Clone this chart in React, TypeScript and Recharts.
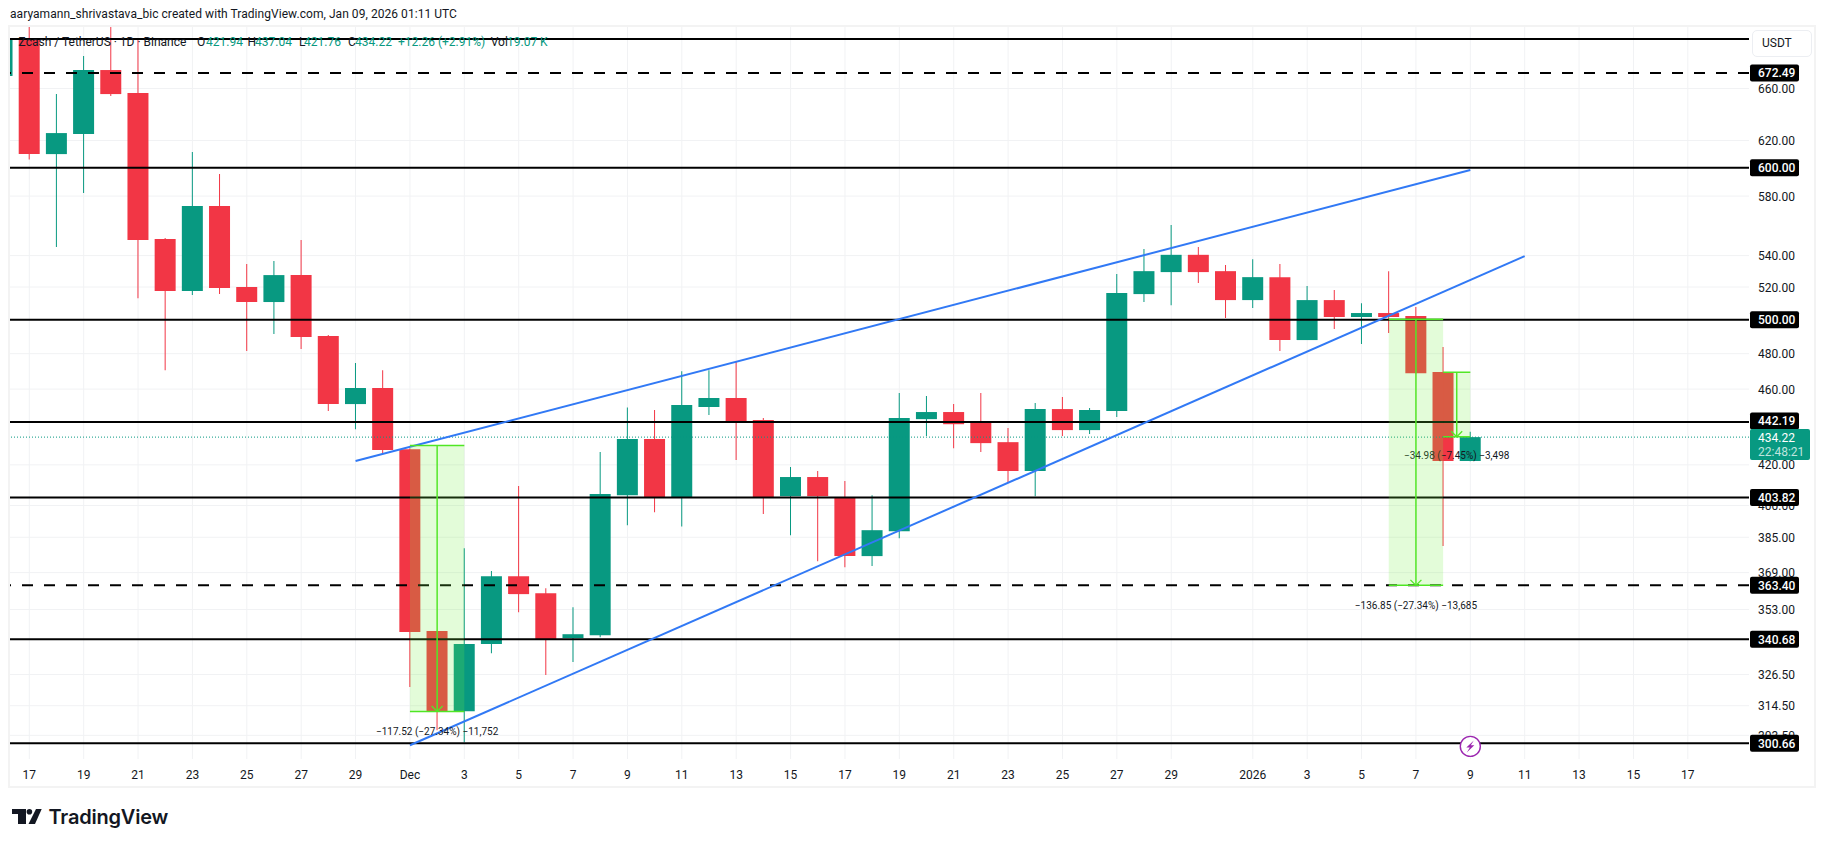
import React from "react";
import { ComposedChart, Bar, Cell, XAxis, YAxis, CartesianGrid, ReferenceLine, ReferenceArea, ReferenceDot } from "recharts";

// Daily candles, first entry is Nov 16 (day -1), Nov 17 is day 0.
const opens = [670, 700, 610, 624.9, 674.8, 656.4, 550.9, 517.5, 573.1, 520, 510.7, 527.5, 490.3, 451.8, 460.6, 428, 344, 312.4, 338.7, 367.4, 360, 341.1, 342.3, 405, 433.2, 404, 450.2, 455.1, 443.2, 404.5, 413.9, 404, 376.4, 387.8, 443.7, 447.5, 442.1, 431.6, 416.9, 449.1, 437.9, 448, 515.6, 529.4, 540.5, 530, 511.9, 526.2, 487.9, 511.9, 501.6, 504, 502.2, 469.5, 421.94];
const highs = [705, 730, 655.6, 686.3, 730, 700, 551.5, 611.5, 595.6, 534.5, 536.5, 550.2, 490.9, 474.6, 470.6, 428.5, 344, 380, 369.7, 409.5, 362.2, 354, 426.5, 450, 448.6, 470, 470.6, 475.2, 444.3, 418.9, 416.9, 411.9, 405, 457.8, 456.2, 451.8, 457.8, 439, 452.4, 455.6, 449.7, 528.2, 544.3, 560.2, 545.6, 533.9, 537.7, 534.5, 520.6, 518.1, 510, 530, 507.6, 483.9, 437.04];
const lows = [665, 606, 545.6, 582.2, 654, 513.1, 470.6, 515, 515.6, 481.5, 491.4, 482.7, 448, 438.4, 426, 321.6, 305.4, 301, 335, 351.9, 326.3, 331.4, 341.5, 390.6, 396.8, 390, 445.9, 422.4, 395.9, 386, 374.1, 371.4, 371.9, 384.6, 434.8, 428.5, 426.5, 411.4, 404.5, 434.8, 435.8, 444.8, 510.7, 508.8, 522.5, 501, 507, 481.5, 487.9, 494.4, 485.6, 492, 468.9, 381, 421.76];
const closes = [700, 610, 625.6, 674.8, 655.6, 550.2, 517.5, 573.1, 519.4, 510.7, 527.5, 489.7, 451.8, 460.6, 427.5, 343.6, 312.4, 338.7, 367.4, 359.6, 340.7, 342.7, 405.5, 433.2, 404, 451.3, 455.1, 442.7, 404, 413.9, 404.5, 376.4, 388.3, 444.3, 447.5, 441, 431.1, 416.9, 449.1, 437.9, 448.6, 516.2, 530, 540.5, 529.4, 511.9, 526.2, 487.9, 511.9, 501.6, 504, 501.6, 468.9, 421.94, 434.22];

const xTickDays = [0, 2, 4, 6, 8, 10, 12, 14, 16, 18, 20, 22, 24, 26, 28, 30, 32, 34, 36, 38, 40, 42, 45, 47, 49, 51, 53, 55, 57, 59, 61];
const xTickLabels = ["17", "19", "21", "23", "25", "27", "29", "Dec", "3", "5", "7", "9", "11", "13", "15", "17", "19", "21", "23", "25", "27", "29", "2026", "3", "5", "7", "9", "11", "13", "15", "17"];

const plainPrices = [660, 620, 580, 540, 520, 480, 460, 420, 400, 385, 369, 353, 326.5, 314.5, 303.5];
const solidLevels = [600, 500, 442.19, 403.82, 340.68, 300.66];
const dashedLevels = [672.49, 363.4];
const topLevel = 700.4;
const lastPrice = 434.22;
const lastCountdown = "22:48:21";

const upperTrendDays = [12, 53];
const upperTrendPrices = [421.9, 598.5];
const lowerTrendDays = [14, 55];
const lowerTrendPrices = [299.9, 539.7];

const measureFrom = [14, 50, 52];
const measureTo = [16, 52, 53];
const measureArrow = [15, 51, 52.5];
const measureTop = [429.86, 500.25, 469.4];
const measureBottom = [312.34, 363.4, 434.42];
const measureLabels = ["−117.52 (−27.34%) −11,752", "−136.85 (−27.34%) −13,685", "−34.98 (−7.45%) −3,498"];
const measureLabelPrice = [304.8, 354.9, 424.6];

const UP = "#089981";
const DOWN = "#F23645";
const INK = "#131722";
const GRID = "#f1f2f4";
const FONT = "Roboto, sans-serif";

const rows = opens.map((o, i) => ({
  day: i - 1,
  body: [Math.min(o, closes[i]), Math.max(o, closes[i])],
  wick: [lows[i], highs[i]],
  up: closes[i] >= o,
}));

const allPriceTicks = [...plainPrices, ...solidLevels, ...dashedLevels, lastPrice];
const isLevel = (v: number) => solidLevels.includes(v) || dashedLevels.includes(v);
const fmt = (v: number) => v.toFixed(2);

function PriceTick(props: any) {
  const { x, y, payload } = props;
  const v = payload.value;
  if (v === lastPrice) {
    return (
      <g>
        <rect x={x + 1} y={y - 8} width={60} height={31} rx={2} fill={UP} />
        <text x={x + 9} y={y + 4.5} fill="#ffffff" fontSize={12} fontFamily={FONT}>{fmt(v)}</text>
        <text x={x + 9} y={y + 18.5} fill="#bfe5de" fontSize={12} fontFamily={FONT}>{lastCountdown}</text>
      </g>
    );
  }
  if (isLevel(v)) {
    const c = y - (v === 442.19 ? 1 : 0);
    return (
      <g>
        <rect x={x + 1} y={c - 8.5} width={49} height={17} rx={2} fill="#000000" />
        <text x={x + 9} y={c + 4.5} fill="#ffffff" fontSize={12} fontWeight={500} fontFamily={FONT}>{fmt(v)}</text>
      </g>
    );
  }
  return <text x={x + 9} y={y + 4.5} fill={INK} fontSize={12} fontFamily={FONT}>{fmt(v)}</text>;
}

function DayTick(props: any) {
  const { x, y, payload } = props;
  const i = xTickDays.indexOf(payload.value);
  return (
    <text x={x} y={y + 18} textAnchor="middle" fill={INK} fontSize={12} fontFamily={FONT}>
      {xTickLabels[i]}
    </text>
  );
}

const Chevron = (props: any) => (
  <path d={`M${props.cx - 5.5} ${props.cy - 5.5} L${props.cx} ${props.cy} L${props.cx + 5.5} ${props.cy - 5.5}`} fill="none" stroke="#4ce522" strokeWidth={1.3} />
);

const Bolt = (props: any) => {
  const { cx, cy } = props;
  return (
    <g>
      <circle cx={cx} cy={cy} r={10} fill="#ffffff" stroke="#9c27b0" strokeWidth={1.4} />
      <path d={`M${cx + 3.5} ${cy - 6} L${cx - 4} ${cy + 1.2} L${cx - 0.5} ${cy + 1.2} L${cx - 3.5} ${cy + 6} L${cx + 4} ${cy - 1.2} L${cx + 0.5} ${cy - 1.2} Z`} fill="#9c27b0" />
    </g>
  );
};

const legendParts: [string, number, string][] = [
  ["Zcash / TetherUS · 1D · Binance", 18.6, INK],
  ["O", 197, INK],
  ["421.94", 206, UP],
  ["H", 247.5, INK],
  ["437.04", 255, UP],
  ["L", 299, INK],
  ["421.76", 304, UP],
  ["C", 348, INK],
  ["434.22", 355, UP],
  ["+12.26 (+2.91%)", 398, UP],
  ["Vol", 490.7, INK],
  ["19.07 K", 507, UP],
];

export default function App() {
  const areaProps: any = { zIndex: 700, isFront: true };
  return (
    <div style={{ position: "absolute", left: 0, top: 0, width: 1825, height: 847, background: "#fff", overflow: "hidden", fontFamily: FONT }}>
      <div style={{ position: "absolute", left: 10, top: 7, fontSize: 12, letterSpacing: "0.05px", color: INK, whiteSpace: "nowrap" }}>
        aaryamann_shrivastava_bic created with TradingView.com, Jan 09, 2026 01:11 UTC
      </div>
      <div style={{ position: "absolute", left: 8, top: 25, width: 1808, height: 763, border: "2px solid #f3f3f3", boxSizing: "border-box" }} />
      <div style={{ position: "absolute", left: 0, top: 0 }}>
        <ComposedChart width={1825} height={847} data={rows} margin={{ top: 27, left: 10, right: 10, bottom: 60 }}>
          <CartesianGrid stroke={GRID} horizontalValues={plainPrices} verticalValues={xTickDays} />
          <XAxis dataKey="day" type="number" domain={[-0.71, 63.25]} allowDataOverflow ticks={xTickDays} interval={0} height={28} axisLine={false} tickLine={false} tickSize={0} tick={DayTick} />
          <XAxis xAxisId="wick" dataKey="day" type="number" domain={[-0.71, 63.25]} allowDataOverflow ticks={xTickDays} hide />
          <YAxis orientation="right" scale="log" domain={[295, 710.6]} allowDataOverflow ticks={allPriceTicks} interval={0} width={66} axisLine={false} tickLine={false} tickSize={0} tickMargin={0} tick={PriceTick} />
          <Bar xAxisId="wick" dataKey="wick" barSize={1} isAnimationActive={false}>
            {rows.map((r) => <Cell key={r.day} fill={r.up ? UP : DOWN} />)}
          </Bar>
          <Bar dataKey="body" barSize={21} isAnimationActive={false}>
            {rows.map((r) => <Cell key={r.day} fill={r.up ? UP : DOWN} />)}
          </Bar>

          <ReferenceLine y={lastPrice} stroke={UP} strokeWidth={1} strokeDasharray="1 2" />
          <ReferenceLine y={topLevel} stroke="#000" strokeWidth={2} />
          {solidLevels.map((v) => <ReferenceLine key={v} y={v} stroke="#000" strokeWidth={2} />)}
          {dashedLevels.map((v) => <ReferenceLine key={v} y={v} stroke="#000" strokeWidth={2} strokeDasharray="11 11" />)}

          <ReferenceLine segment={[{ x: upperTrendDays[0], y: upperTrendPrices[0] }, { x: upperTrendDays[1], y: upperTrendPrices[1] }]} stroke="#3179f5" strokeWidth={2} />
          <ReferenceLine segment={[{ x: lowerTrendDays[0], y: lowerTrendPrices[0] }, { x: lowerTrendDays[1], y: lowerTrendPrices[1] }]} stroke="#3179f5" strokeWidth={2} />

          {measureFrom.map((x1, i) => (
            <ReferenceArea key={`a${i}`} {...areaProps} x1={x1} x2={measureTo[i]} y1={measureBottom[i]} y2={measureTop[i]} fill="#73f041" fillOpacity={0.2} stroke="none" />
          ))}

          {measureFrom.map((x1, i) => (
            <React.Fragment key={`m${i}`}>
              <ReferenceLine segment={[{ x: x1, y: measureTop[i] }, { x: measureTo[i], y: measureTop[i] }]} stroke="#4ce522" strokeWidth={1.5} />
              <ReferenceLine segment={[{ x: x1, y: measureBottom[i] }, { x: measureTo[i], y: measureBottom[i] }]} stroke="#4ce522" strokeWidth={1.5} />
              <ReferenceLine segment={[{ x: measureArrow[i], y: measureTop[i] }, { x: measureArrow[i], y: measureBottom[i] }]} stroke="#4ce522" strokeWidth={1.5} />
              <ReferenceDot x={measureArrow[i]} y={measureBottom[i]} r={0} shape={Chevron} />
              <ReferenceDot
                x={measureArrow[i]}
                y={measureLabelPrice[i]}
                r={0}
                shape={(p: any) => (
                  <text x={p.cx} y={p.cy + 3.5} textAnchor="middle" fontSize={10} fill={INK} fontFamily={FONT}>{measureLabels[i]}</text>
                )}
              />
            </React.Fragment>
          ))}
          <ReferenceDot x={53} y={299.5} r={0} shape={Bolt} />
        </ComposedChart>
      </div>

      {legendParts.map(([t, x, c]) => (
        <div key={`${t}${x}`} style={{ position: "absolute", left: x, top: 35, fontSize: 12, lineHeight: "14px", color: c, whiteSpace: "nowrap" }}>{t}</div>
      ))}

      <div style={{ position: "absolute", left: 1752, top: 30, width: 60, height: 27, border: "1px solid #eceef2", borderRadius: 5, boxSizing: "border-box", fontSize: 12, lineHeight: "25px", paddingLeft: 9, color: INK, background: "#fff" }}>USDT</div>

      <svg style={{ position: "absolute", left: 0, top: 800 }} width={46} height={32}>
        <path d="M12 9 H26 V24 H18 V14 H12 Z" fill={INK} />
        <circle cx={29.4} cy={11.8} r={2.8} fill={INK} />
        <path d="M36 9 H41.7 L35 24 H28.5 Z" fill={INK} />
      </svg>
      <div style={{ position: "absolute", left: 48.5, top: 804, fontFamily: "Inter, sans-serif", fontWeight: 600, fontSize: 20, letterSpacing: "-0.2px", lineHeight: "26px", color: INK, whiteSpace: "nowrap" }}>TradingView</div>
    </div>
  );
}
